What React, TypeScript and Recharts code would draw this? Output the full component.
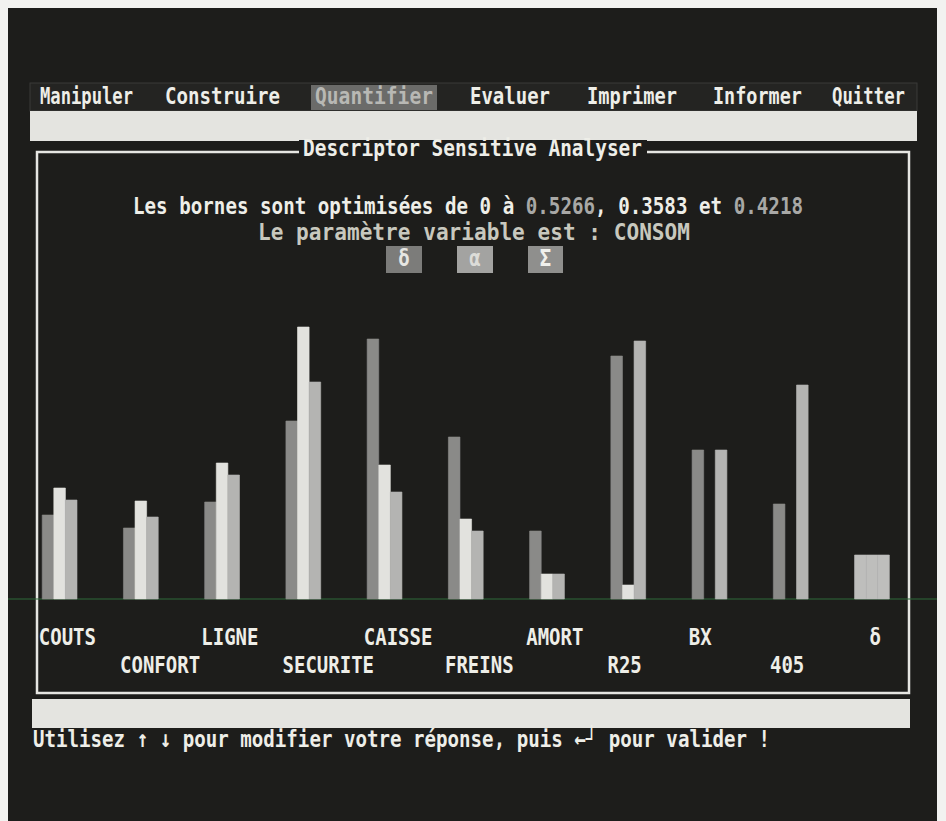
import React from "react";
import { BarChart, Bar, XAxis, YAxis, Cell } from "recharts";

const categories = ["COUTS", "CONFORT", "LIGNE", "SECURITE", "CAISSE", "FREINS", "AMORT", "R25", "BX", "405", "δ"];
const deltaValues = [0.84, 0.71, 0.97, 1.78, 2.6, 1.62, 0.68, 2.43, 1.49, 0.95, 0.44];
const alphaValues = [1.11, 0.98, 1.36, 2.72, 1.34, 0.8, 0.25, 0.14, 0, 0, 0.44];
const sigmaValues = [0.99, 0.82, 1.24, 2.17, 1.07, 0.68, 0.25, 2.58, 1.49, 2.14, 0.44];
const menuItems = ["Manipuler", "Construire", "Quantifier", "Evaluer", "Imprimer", "Informer", "Quitter"];

const data = categories.map((name, i) => ({
  name,
  delta: deltaValues[i],
  alpha: alphaValues[i],
  sigma: sigmaValues[i],
}));

const SCREEN = "#1d1d1b";
const FONT = "'DejaVu Sans Mono', monospace";
const colors = { delta: "#8a8a88", alpha: "#e2e2de", sigma: "#b4b4b2", total: "#bebebc" };

// menu positions: [left, width]
const menuPos = [[40, 93], [165, 115], [315, 118], [470, 80], [587, 90], [713, 89], [832, 73]];

const DosText = ({ x, y, size = 19, fill = "#eeeee8", width, anchor = "start", children }: any) => (
  <text
    transform={`translate(${x} ${y}) scale(1 1.25)`}
    fontFamily={FONT}
    fontWeight="bold"
    fontSize={size}
    fill={fill}
    textAnchor={anchor}
    textLength={width}
    lengthAdjust={width ? "spacingAndGlyphs" : undefined}
  >
    {children}
  </text>
);

const CategoryTick = ({ x, y, payload, index }: any) => {
  const label = String(payload.value);
  const row = index % 2 === 0 ? 46 : 74;
  const single = label.length === 1;
  return (
    <DosText x={single ? x + 3 : x - 21} y={y + row} anchor={single ? "middle" : "start"}>
      {label}
    </DosText>
  );
};

const Screen = () => (
  <svg width={946} height={821} style={{ position: "absolute", left: 0, top: 0 }}>
    <rect x={0} y={0} width={946} height={821} fill="#f2f2f0" />
    <rect x={8} y={8} width={929} height={813} fill={SCREEN} />
    <rect x={30} y={83} width={887} height={28} fill="#242422" stroke="#3a3a38" />
    <rect x={311} y={85} width={126} height={25} fill="#6b6b69" />
    {menuItems.map((m, i) => (
      <DosText key={m} x={menuPos[i][0]} y={104} width={menuPos[i][1]} fill={i === 2 ? "#b8b8b4" : "#eeeee8"}>
        {m}
      </DosText>
    ))}
    <rect x={30} y={111} width={887} height={30} fill="#e4e4e0" />
    <rect x={37} y={152} width={872} height={541} fill="none" stroke="#e6e6e2" strokeWidth={2.5} />
    <rect x={299} y={140} width={348} height={24} fill={SCREEN} />
    <DosText x={303} y={156} width={339}>Descriptor Sensitive Analyser</DosText>
    <DosText x={133} y={214} width={670}>
      Les bornes sont optimisées de 0 à <tspan fill="#a8a8a6">0.5266</tspan>, 0.3583 et{" "}
      <tspan fill="#a8a8a6">0.4218</tspan>
    </DosText>
    <DosText x={258} y={240} width={432} fill="#c8c8be">Le paramètre variable est : CONSOM</DosText>
    <rect x={386} y={246} width={36} height={27} fill="#7c7c7a" />
    <rect x={457} y={246} width={36} height={27} fill="#a3a3a1" />
    <rect x={528} y={246} width={35} height={27} fill="#8f8f8d" />
    <DosText x={404} y={266} anchor="middle" fill="#e6e6e2">δ</DosText>
    <DosText x={475} y={266} anchor="middle" fill="#dcdcd8">α</DosText>
    <DosText x={545.5} y={266} anchor="middle" fill="#f0f0ec">Σ</DosText>
    <line x1={8} x2={937} y1={599} y2={599} stroke="#2e6b3a" strokeWidth={1} />
    <rect x={32} y={699} width={878} height={29} fill="#e4e4e0" />
    <DosText x={33} y={747} width={737}>
      Utilisez ↑ ↓ pour modifier votre réponse, puis ←┘ pour valider !
    </DosText>
  </svg>
);

const seriesKeys = ["delta", "alpha", "sigma"] as const;

const App = () => {
  return (
    <div style={{ position: "fixed", left: 0, top: 0, width: 946, height: 821, overflow: "hidden" }}>
      <Screen />
      <div style={{ position: "absolute", left: 0, top: 0 }}>
        <BarChart
          width={946}
          height={821}
          data={data}
          margin={{ top: 299, right: 33.2, bottom: 142, left: 19.2 }}
          barGap={0}
        >
          <XAxis
            dataKey="name"
            height={80}
            axisLine={false}
            tickLine={false}
            tickSize={0}
            tickMargin={0}
            interval={0}
            tick={<CategoryTick />}
          />
          <YAxis hide domain={[0, 3]} />
          {seriesKeys.map((key) => (
            <Bar key={key} dataKey={key} fill={colors[key]} barSize={11.6} isAnimationActive={false}>
              {data.map((d, i) => {
                const fill = i === data.length - 1 ? colors.total : colors[key];
                return <Cell key={i} fill={fill} stroke={fill} strokeWidth={0.6} />;
              })}
            </Bar>
          ))}
        </BarChart>
      </div>
    </div>
  );
};

export default App;
